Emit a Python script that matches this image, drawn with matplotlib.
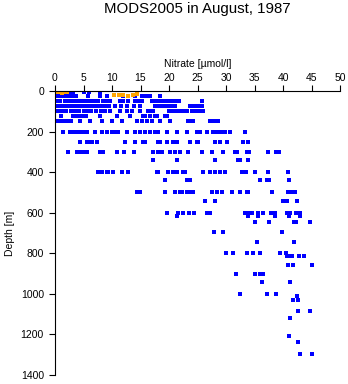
import matplotlib.pyplot as plt
import numpy as np

plt.rcParams['font.family'] = ['Liberation Sans', 'DejaVu Sans']

# depth [m] of each row of blue points and the nitrate values read along it
blue_depths = [3, 12, 25, 50, 75, 100, 125, 150, 200, 250, 300, 340, 400, 440,
               500, 540, 600, 615, 645, 695, 745, 798, 815, 860, 900, 940,
               1000, 1010, 1030, 1085, 1120, 1210, 1235, 1297]
blue_nitrate = [
    [0.0, 0.3, 0.6, 0.9, 1.2, 1.6, 2.0, 5.1, 6.0],
    [0.2, 0.8, 1.4, 2.0, 2.6, 3.2, 7.9],
    [0.2, 0.7, 1.2, 1.7, 2.2, 2.7, 3.2, 3.7, 5.8, 7.9, 9.1, 12.0, 14.0, 15.3,
     16.0, 16.7, 18.4],
    [0.2, 0.8, 1.8, 2.3, 2.8, 3.2, 3.9, 4.3, 4.7, 5.3, 5.7, 6.1, 6.5, 7.0, 7.5,
     8.4, 9.1, 9.6, 11.4, 11.9, 12.8, 14.0, 14.6, 15.3, 17.0, 17.6, 18.2, 18.8,
     19.4, 20.0, 20.6, 21.2, 21.8, 25.8],
    [0.3, 1.0, 1.7, 2.4, 3.1, 3.8, 4.5, 5.2, 5.9, 6.6, 7.3, 8.0, 8.7, 9.4, 10.5,
     11.5, 12.6, 13.8, 14.9, 17.5, 18.2, 18.9, 19.6, 20.3, 21.0, 23.7, 24.4,
     25.1, 25.8],
    [0.5, 1.3, 2.0, 2.8, 3.5, 4.2, 5.0, 5.7, 6.4, 7.2, 8.0, 8.8, 9.6, 11.4, 12.6,
     13.5, 14.9, 16.3, 16.8, 17.2, 20.0, 20.7, 21.4, 22.0, 22.5, 23.2, 24.0,
     24.6, 25.3, 26.0],
    [1.0, 3.2, 3.8, 4.4, 4.9, 5.5, 7.9, 10.9, 13.2, 15.4, 15.8, 16.7, 17.5, 17.9,
     19.3, 19.6],
    [0.3, 0.8, 1.3, 1.8, 2.3, 2.8, 4.4, 6.1, 8.2, 10.0, 11.8, 14.4, 15.3, 16.1,
     17.0, 18.4, 20.2, 23.3, 23.8, 24.2, 27.2, 27.7, 28.2, 28.6],
    [1.4, 2.6, 3.2, 3.8, 4.4, 4.9, 5.6, 7.0, 8.2, 9.1, 10.0, 10.5, 11.0, 12.6,
     14.0, 14.9, 15.8, 16.7, 17.5, 18.1, 19.6, 21.4, 23.2, 24.9, 25.4, 26.7,
     27.7, 28.4, 29.1, 29.8, 30.7, 33.3],
    [4.4, 5.6, 6.1, 6.5, 7.4, 12.3, 14.0, 15.4, 15.8, 18.1, 18.4, 19.6, 20.7,
     21.4, 23.7, 24.9, 25.1, 28.1, 28.9, 30.2, 33.0, 33.9],
    [2.3, 3.9, 4.5, 5.1, 5.6, 7.9, 8.4, 10.9, 12.1, 13.9, 17.2, 18.1, 18.8, 20.2,
     21.1, 21.9, 23.3, 25.8, 27.5, 29.5, 31.6, 31.9, 33.7, 34.0, 37.4, 38.8,
     39.3],
    [17.2, 21.4, 28.1, 32.1, 32.5, 33.9],
    [7.5, 7.9, 8.2, 9.1, 9.3, 10.2, 11.8, 12.8, 17.9, 18.1, 19.8, 20.7, 21.4,
     22.5, 22.8, 26.0, 27.2, 28.1, 28.9, 29.8, 32.8, 33.5, 35.1, 37.4, 40.9],
    [19.3, 23.2, 23.7, 36.0, 37.2, 37.5, 41.0],
    [14.4, 14.9, 19.3, 21.1, 21.9, 22.3, 23.2, 23.7, 24.2, 27.5, 28.4, 29.3,
     31.1, 32.5, 33.7, 33.9, 38.0, 40.9, 41.5, 42.1],
    [26.3, 28.1, 40.0, 40.7, 42.5],
    [19.6, 21.6, 22.5, 23.5, 24.4, 26.7, 27.2, 33.3, 33.9, 34.5, 35.6, 36.5,
     37.9, 38.6, 40.7, 41.2, 42.3, 43.0],
    [21.4, 33.9, 35.6, 38.6, 41.1, 43.0],
    [35.1, 37.5, 41.9, 42.3, 44.7],
    [27.9, 29.5, 39.8],
    [35.4, 41.9],
    [30.0, 31.2, 33.6, 34.7, 36.0, 39.5, 40.5],
    [40.7, 41.1, 41.6, 42.8, 43.7],
    [40.9, 41.8, 45.1],
    [31.8, 35.1, 36.0, 36.5],
    [36.3, 41.2],
    [32.5, 37.2, 38.8],
    [42.5],
    [41.8, 42.6],
    [42.6, 44.7],
    [41.2],
    [41.0],
    [42.6],
    [43.0, 45.1],
]

orange_depth = [2, 4, 6, 8, 5, 3, 20, 22, 18, 25, 20, 15]
orange_nitrate = [0.1, 0.5, 0.9, 1.3, 1.7, 2.1, 10.3, 11.3, 12.0, 12.8, 13.6, 14.4]

x_ticks = np.arange(0, 51, 5)
y_ticks = np.arange(0, 1401, 200)

bx = [v for row in blue_nitrate for v in row]
by = [d for d, row in zip(blue_depths, blue_nitrate) for _ in row]

fig = plt.figure(figsize=(3.48, 3.84), dpi=100)
ax = fig.add_axes([55 / 348, 1 - 375 / 384, 285 / 348, 284 / 384])

ax.scatter(bx, by, s=5.5, marker='s', color='#0000ff', linewidths=0)
ax.scatter(orange_nitrate, orange_depth, s=5.5, marker='s', color='#ffa500',
           linewidths=0)

ax.set_xlim(0, 50)
ax.set_ylim(1400, 0)
ax.set_xticks(x_ticks)
ax.set_yticks(y_ticks)
ax.xaxis.tick_top()
ax.xaxis.set_label_position('top')
ax.spines['right'].set_visible(False)
ax.spines['bottom'].set_visible(False)
ax.spines['top'].set_linewidth(0.8)
ax.spines['left'].set_linewidth(0.8)
ax.tick_params(axis='both', direction='out', length=4, width=0.8,
               labelsize=7.5, pad=2)
ax.tick_params(axis='y', pad=4)
ax.set_xlabel('Nitrate [µmol/l]', fontsize=7.5, labelpad=4)
ax.set_ylabel('Depth [m]', fontsize=7.5, labelpad=4)

fig.text(197 / 348, 1 - 9 / 384, 'MODS2005 in August, 1987', ha='center',
         va='center', fontsize=10.8)

fig.savefig('out.png', dpi=100)
